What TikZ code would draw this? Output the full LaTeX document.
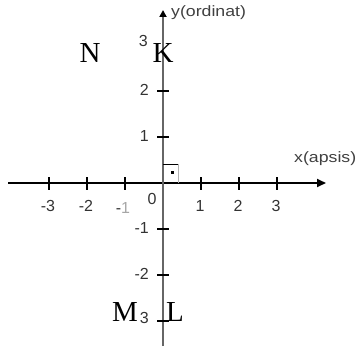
\documentclass[tikz,border=0pt]{standalone}
\usepackage{fontspec}
\setmainfont{Liberation Serif}
\setsansfont{Liberation Sans}
\usetikzlibrary{arrows.meta}
\begin{document}
\begin{tikzpicture}[x=1pt,y=-1pt,
  ticklab/.style={font=\sffamily\fontsize{16}{16}\selectfont, text=black!80, inner sep=0pt},
  axlab/.style={font=\sffamily\fontsize{15}{15}\selectfont, text=black!75, inner sep=0pt, xscale=1.18},
  ptlab/.style={font=\fontsize{29}{29}\selectfont, inner sep=0pt},
  tick/.style={line width=1.2pt, black}]
\useasboundingbox (0,0) rectangle (356,350);
% axes
\coordinate (O) at (163,183);
\coordinate (xl) at (8,183);
\coordinate (xr) at (326,183);
\coordinate (yt) at (163,10);
\coordinate (yb) at (163,346);
\draw[line width=1.8pt, -{Triangle[length=9pt,width=8pt]}] (xl) -- (xr);
\draw[line width=2.8pt, black!60, -{Triangle[length=7pt,width=7pt,fill=black,color=black]}] (yb) -- (yt);
% x ticks
\foreach \i in {-3,-2,-1,1,2,3}{
  \draw[tick] (163+38*\i,177) -- (163+38*\i,190);
}
\foreach \i/\lab in {-3/-3,-2/-2,1/1,2/2,3/3}{
  \node[ticklab] (xt\i) at (163+38*\i-1,206) {\lab};
}
\node[ticklab] (xtm1) at (123,208) {-\textcolor{black!35}{1}};
\node[ticklab] (x0) at (152,199) {0};
% y ticks
\foreach \j in {-3,-2,-1,1,2}{
  \draw[tick] (157,183-46*\j) -- (169,183-46*\j);
}
\foreach \j/\lab in {2/2,1/1,-1/-1,-2/-2}{
  \node[ticklab, anchor=east] (yt\j) at (149,183-46*\j-1) {\lab};
}
\node[ticklab, anchor=east] (y3) at (148,41) {3};
\node[ticklab, anchor=east] (ym3) at (149,318) {3};
% right angle mark
\draw[line width=1pt] (163,164) -- (178,164);
\draw[line width=1pt, black!30] (178,164) -- (178,183);
\fill (170.5,170.5) rectangle (173.5,173.5);
% axis labels
\node[axlab, anchor=west] (ylab) at (171,13) {y(ordinat)};
\node[axlab, anchor=west] (xlab) at (294,159) {x(apsis)};
% point labels
\node[ptlab] (N) at (90,53) {N};
\node[ptlab] (K) at (163,53) {K};
\node[ptlab] (M) at (125,312) {M};
\node[ptlab] (L) at (175,312) {L};
\end{tikzpicture}
\end{document}
